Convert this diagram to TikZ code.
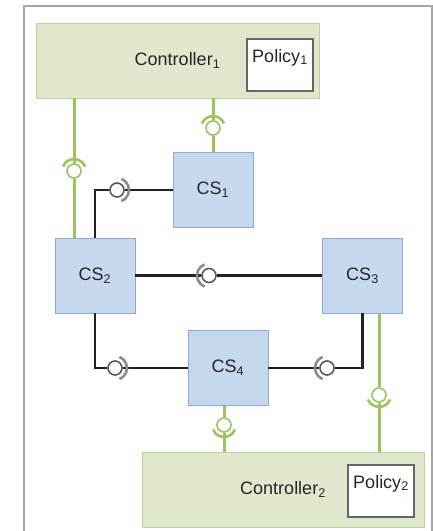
\documentclass[tikz,border=0pt]{standalone}
\usepackage{fontspec}
\setmainfont{Liberation Sans}
\usetikzlibrary{positioning}
\definecolor{csfill}{RGB}{197,216,237}
\definecolor{csline}{RGB}{140,170,210}
\definecolor{ctlfill}{RGB}{223,232,205}
\definecolor{ctlline}{RGB}{190,212,150}
\definecolor{wiregreen}{RGB}{155,196,95}
\definecolor{wiredark}{RGB}{35,35,35}
\definecolor{sockgrey}{RGB}{140,140,140}
\definecolor{framegrey}{RGB}{165,165,165}
\newcommand{\idx}[1]{\textsubscript{#1}}
\tikzset{label18/.style={font=\fontsize{18}{20}\selectfont, text=black!85}}
\tikzset{csbox/.style={label18, draw=csline, fill=csfill, minimum width=80pt, minimum height=75pt, line width=0.8pt}}
\tikzset{ctlbox/.style={label18, draw=ctlline, fill=ctlfill, minimum height=75pt, line width=0.8pt}}
\tikzset{polbox/.style={label18, draw=black!60, fill=white, minimum width=66pt, inner sep=5pt, text height=18pt, text depth=24pt, line width=1.2pt}}
\tikzset{ball/.style={draw, circle, fill=white, inner sep=0pt, minimum size=14pt, line width=1.6pt}}
\tikzset{bball/.style={ball, draw=black!65}}
\tikzset{gball/.style={ball, draw=wiregreen}}
\tikzset{bedge/.style={draw=wiredark, line width=2.6pt}}
\tikzset{gedge/.style={draw=wiregreen, line width=3pt}}
\tikzset{bsock/.style={draw=sockgrey, line width=2.6pt}}
\tikzset{gsock/.style={draw=wiregreen, line width=2.6pt}}
\tikzset{frame/.style={draw=framegrey, line width=2.4pt}}

\begin{document}
\begin{tikzpicture}[x=1pt, y=-1pt]
    \useasboundingbox (0,0) rectangle (433,531);
    \draw [frame] (24,531) -- (24,6) -- (432,6) -- (432,531);

    % controllers
    \node [ctlbox, minimum width=283pt] (Ctl1) at (177.5, 60.5) { Controller\idx{1} };
    \node [polbox] (Pol1) at (280, 65) { Policy\idx{1} };
    \node [ctlbox, minimum width=282pt] (Ctl2) at (283, 489.5) { Controller\idx{2} };
    \node [polbox] (Pol2) at (381, 491) { Policy\idx{2} };

    % switches
    \node [csbox] (CS1) at (213, 190) { CS\idx{1} };
    \node [csbox] (CS2) at (95, 275.5) { CS\idx{2} };
    \node [csbox] (CS3) at (362.5, 275.5) { CS\idx{3} };
    \node [csbox] (CS4) at (228, 368) { CS\idx{4} };

    % balls
    \node [gball] (K1) at (74, 171) {};
    \node [gball] (K2) at (213, 128) {};
    \node [bball] (K3) at (117, 190) {};
    \node [bball] (K4) at (209, 275.5) {};
    \node [bball] (K5) at (115, 368) {};
    \node [bball] (K6) at (327, 368) {};
    \node [gball] (K7) at (379, 395) {};
    \node [gball] (K8) at (224, 425) {};

    \draw [gedge] (Ctl1.south -| K1) -- (K1) -- (K1 |- CS2.north);
    \draw [gedge] (Ctl1.south -| K2) -- (K2) -- (CS1);
    \draw [bedge] (CS2.north) |- (K3);
    \draw [bedge] (K3) -- (CS1);
    \draw [bedge] (CS2) -- (K4) -- (CS3);
    \draw [bedge] (CS2.south) |- (K5);
    \draw [bedge] (K5) -- (CS4);
    \draw [bedge] (CS4) -- (K6);
    \draw [bedge] (K6) -| (CS3.south);
    \draw [gedge] (K7 |- CS3.south) -- (K7) -- (K7 |- Ctl2.north);
    \draw [gedge] (K8 |- CS4.south) -- (K8) -- (K8 |- Ctl2.north);

    % sockets
    \draw [gsock] (K1) ++(22:12pt) arc (22:158:12pt);
    \draw [gsock] (K2) ++(22:12pt) arc (22:158:12pt);
    \draw [bsock] (K3) ++(-68:12pt) arc (-68:68:12pt);
    \draw [bsock] (K4) ++(112:12pt) arc (112:248:12pt);
    \draw [bsock] (K5) ++(-68:12pt) arc (-68:68:12pt);
    \draw [bsock] (K6) ++(112:12pt) arc (112:248:12pt);
    \draw [gsock] (K7) ++(202:12pt) arc (202:338:12pt);
    \draw [gsock] (K8) ++(202:12pt) arc (202:338:12pt);
\end{tikzpicture}
\end{document}
